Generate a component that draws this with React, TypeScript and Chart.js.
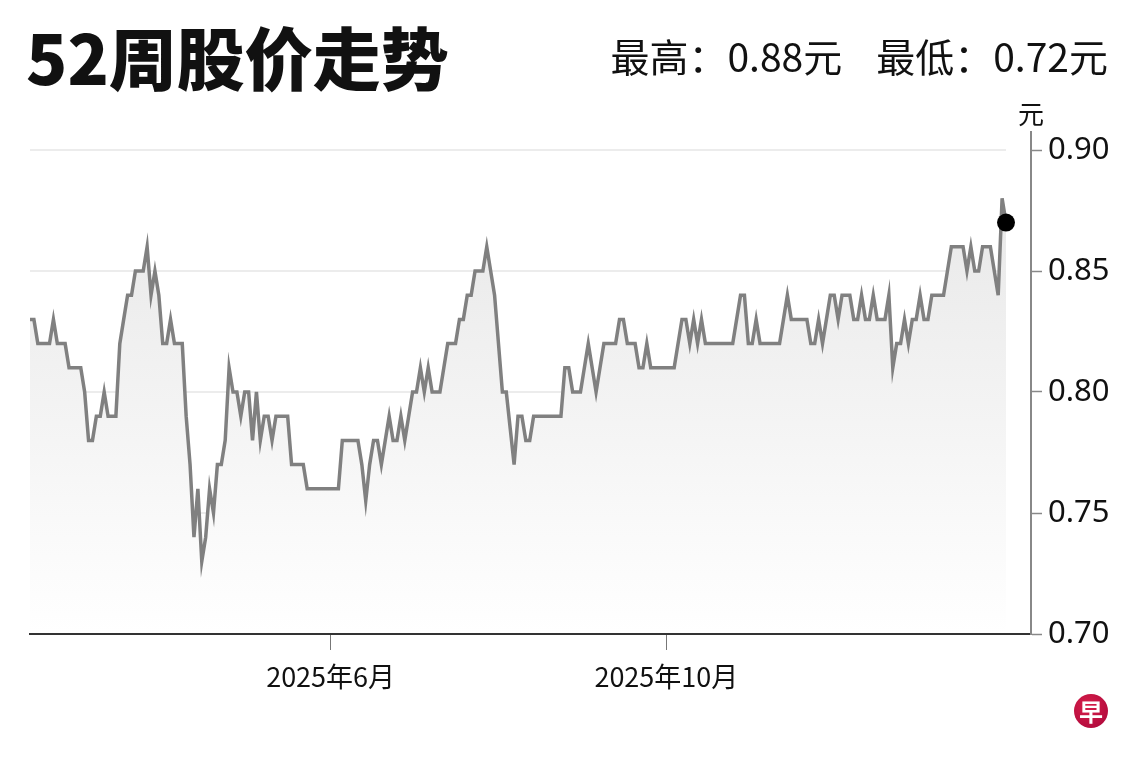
import { useEffect, useRef } from 'react';
import Chart from 'chart.js/auto';

// daily closing price (SGD), 52 weeks of trading days
const prices = [
  0.83, 0.83, 0.82, 0.82, 0.82, 0.82, 0.83, 0.82, 0.82, 0.82,
  0.81, 0.81, 0.81, 0.81, 0.8, 0.78, 0.78, 0.79, 0.79, 0.8,
  0.79, 0.79, 0.79, 0.82, 0.83, 0.84, 0.84, 0.85, 0.85, 0.85,
  0.86, 0.84, 0.85, 0.84, 0.82, 0.82, 0.83, 0.82, 0.82, 0.82,
  0.79, 0.77, 0.74, 0.76, 0.73, 0.74, 0.76, 0.75, 0.77, 0.77,
  0.78, 0.81, 0.8, 0.8, 0.79, 0.8, 0.8, 0.78, 0.8, 0.78,
  0.79, 0.79, 0.78, 0.79, 0.79, 0.79, 0.79, 0.77, 0.77, 0.77,
  0.77, 0.76, 0.76, 0.76, 0.76, 0.76, 0.76, 0.76, 0.76, 0.76,
  0.78, 0.78, 0.78, 0.78, 0.78, 0.77, 0.755, 0.77, 0.78, 0.78,
  0.77, 0.78, 0.79, 0.78, 0.78, 0.79, 0.78, 0.79, 0.8, 0.8,
  0.81, 0.8, 0.81, 0.8, 0.8, 0.8, 0.81, 0.82, 0.82, 0.82,
  0.83, 0.83, 0.84, 0.84, 0.85, 0.85, 0.85, 0.86, 0.85, 0.84,
  0.82, 0.8, 0.8, 0.785, 0.77, 0.79, 0.79, 0.78, 0.78, 0.79,
  0.79, 0.79, 0.79, 0.79, 0.79, 0.79, 0.79, 0.81, 0.81, 0.8,
  0.8, 0.8, 0.81, 0.82, 0.81, 0.8, 0.81, 0.82, 0.82, 0.82,
  0.82, 0.83, 0.83, 0.82, 0.82, 0.82, 0.81, 0.81, 0.82, 0.81,
  0.81, 0.81, 0.81, 0.81, 0.81, 0.81, 0.82, 0.83, 0.83, 0.82,
  0.83, 0.82, 0.83, 0.82, 0.82, 0.82, 0.82, 0.82, 0.82, 0.82,
  0.82, 0.83, 0.84, 0.84, 0.82, 0.82, 0.83, 0.82, 0.82, 0.82,
  0.82, 0.82, 0.82, 0.83, 0.84, 0.83, 0.83, 0.83, 0.83, 0.83,
  0.82, 0.82, 0.83, 0.82, 0.83, 0.84, 0.84, 0.83, 0.84, 0.84,
  0.84, 0.83, 0.83, 0.84, 0.83, 0.83, 0.84, 0.83, 0.83, 0.83,
  0.84, 0.81, 0.82, 0.82, 0.83, 0.82, 0.83, 0.83, 0.84, 0.83,
  0.83, 0.84, 0.84, 0.84, 0.84, 0.85, 0.86, 0.86, 0.86, 0.86,
  0.85, 0.86, 0.85, 0.85, 0.86, 0.86, 0.86, 0.85, 0.84, 0.88,
  0.87,
];

// trading-day index of the first session of each labelled month
const monthTickIdx = [77, 163];
const monthTickLabels = ['2025年6月', '2025年10月'];

const yTicks = [0.7, 0.75, 0.8, 0.85, 0.9];

const LINE = 'rgb(128,128,128)';

const App = () => {
  const canvasRef = useRef<HTMLCanvasElement>(null);
  const chartRef = useRef<Chart | null>(null);

  useEffect(() => {
    if (!canvasRef.current) return;
    const ctx = canvasRef.current.getContext('2d');
    if (!ctx) return;

    const last = prices.length - 1;

    // horizontal grid lines that stop at the last data point
    const shortGrid = {
      id: 'shortGrid',
      beforeDatasetsDraw(chart: any) {
        const { ctx: c, chartArea, scales } = chart;
        const xEnd = scales.x.getPixelForValue(last);
        c.save();
        c.strokeStyle = '#ececec';
        c.lineWidth = 2;
        yTicks.slice(1).forEach((v) => {
          const y = Math.round(scales.y.getPixelForValue(v));
          c.beginPath();
          c.moveTo(chartArea.left, y);
          c.lineTo(xEnd, y);
          c.stroke();
        });
        c.restore();
      },
    };

    // unit label above the price axis
    const unitLabel = {
      id: 'unitLabel',
      afterDraw(chart: any) {
        const { ctx: c, chartArea } = chart;
        c.save();
        c.font = '26px "Noto Sans CJK SC"';
        c.fillStyle = '#111';
        c.textAlign = 'center';
        c.textBaseline = 'middle';
        c.fillText('元', chartArea.right, chartArea.top - 18);
        c.restore();
      },
    };

    chartRef.current = new Chart(ctx, {
      type: 'line',
      data: {
        labels: prices.map((_, i) => i),
        datasets: [
          {
            data: prices.map((p, i) => ({ x: i, y: p })),
            borderColor: LINE,
            borderWidth: 3.5,
            tension: 0,
            fill: 'start',
            backgroundColor: (c: any) => {
              const area = c.chart.chartArea;
              if (!area) return 'rgba(0,0,0,0)';
              const g = c.chart.ctx.createLinearGradient(0, area.top, 0, area.bottom);
              g.addColorStop(0, 'rgb(229,229,229)');
              g.addColorStop(1, 'rgb(255,255,255)');
              return g;
            },
            pointRadius: (c: any) => (c.dataIndex === last ? 9 : 0),
            pointHoverRadius: 0,
            pointBackgroundColor: '#000',
            pointBorderWidth: 0,
          },
        ],
      },
      options: {
        animation: false,
        responsive: false,
        maintainAspectRatio: false,
        layout: { padding: { left: 30, top: 132, right: 0, bottom: 0 } },
        plugins: {
          legend: { display: false },
          tooltip: { enabled: false },
        },
        scales: {
          x: {
            type: 'linear',
            min: 0,
            max: last + 25 / (976 / last),
            afterBuildTicks: (scale: any) => {
              scale.ticks = monthTickIdx.map((v) => ({ value: v }));
            },
            afterFit: (scale: any) => {
              scale.height = 126;
            },
            border: { display: true, color: '#333', width: 2, z: 1 },
            grid: {
              display: true,
              drawOnChartArea: false,
              drawTicks: true,
              tickLength: 16,
              tickColor: '#777',
              tickWidth: 1,
            },
            ticks: {
              autoSkip: false,
              maxRotation: 0,
              padding: 11,
              color: '#111',
              font: { family: '"Noto Sans CJK SC"', size: 27 },
              callback: (v: any) => monthTickLabels[monthTickIdx.indexOf(v)] ?? '',
            },
          },
          y: {
            position: 'right',
            min: 0.7,
            max: 0.9 + 18 / 2420,
            afterBuildTicks: (scale: any) => {
              scale.ticks = yTicks.map((v) => ({ value: v }));
            },
            afterFit: (scale: any) => {
              scale.width = 109;
            },
            border: { display: true, color: '#888', width: 2, z: 1 },
            grid: {
              display: true,
              drawOnChartArea: false,
              drawTicks: true,
              tickLength: 11,
              tickColor: '#888',
              tickWidth: 1.5,
            },
            ticks: {
              padding: 6,
              color: '#111',
              font: { family: '"Noto Sans"', size: 31 },
              callback: (v: any) => Number(v).toFixed(2),
            },
          },
        },
      },
      plugins: [shortGrid, unitLabel],
    });

    return () => {
      if (chartRef.current) {
        chartRef.current.destroy();
        chartRef.current = null;
      }
    };
  }, []);

  return (
    <div
      style={{
        position: 'fixed',
        left: 0,
        top: 0,
        width: 1140,
        height: 760,
        background: '#fff',
        fontFamily: '"Noto Sans CJK SC", sans-serif',
        color: '#111',
      }}
    >
      <canvas ref={canvasRef} width={1140} height={760} style={{ position: 'absolute', left: 0, top: 0 }} />
      <div
        style={{
          position: 'absolute',
          left: 26,
          top: 22,
          fontSize: 68,
          lineHeight: '68px',
          fontWeight: 900,
          whiteSpace: 'nowrap',
        }}
      >
        52周股价走势
      </div>
      <div
        style={{
          position: 'absolute',
          right: 32,
          top: 36,
          fontSize: 39,
          lineHeight: '39px',
          whiteSpace: 'nowrap',
        }}
      >
        最高：0.88元<span style={{ display: 'inline-block', width: 34 }} />最低：0.72元
      </div>
      <div
        style={{
          position: 'absolute',
          left: 1074,
          top: 694,
          width: 34,
          height: 34,
          borderRadius: '50%',
          background: 'radial-gradient(circle at 40% 35%, #d81e4a, #a8063a)',
          color: '#fff',
          fontSize: 24,
          lineHeight: '34px',
          fontWeight: 700,
          textAlign: 'center',
        }}
      >
        早
      </div>
    </div>
  );
};

export default App;
